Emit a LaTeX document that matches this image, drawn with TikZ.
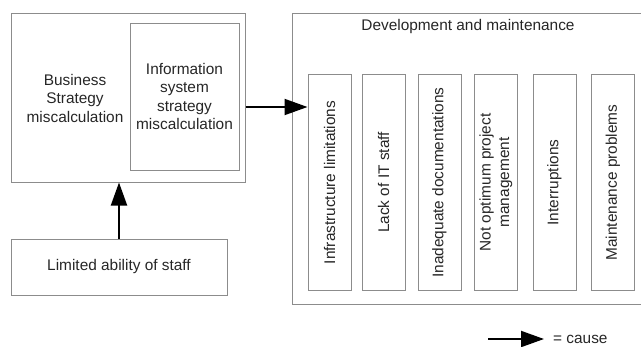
\documentclass[tikz,border=0pt]{standalone}
\usepackage{fontspec}
\setmainfont{Liberation Sans}
\usetikzlibrary{arrows.meta}
\definecolor{boxgray}{HTML}{8C8C8C}
\definecolor{txt}{HTML}{262626}
\tikzset{
  box/.style={draw=boxgray, line width=1pt, rectangle, inner sep=0pt, text=txt, align=center},
  vbox/.style={box, rotate=90, minimum width=216pt, minimum height=43pt},
  lbl/.style={inner sep=0pt, text=txt, align=center},
  cause/.style={line width=2pt, -{Triangle[length=23pt,width=16pt]}},
}
\begin{document}
\begin{tikzpicture}[x=1pt, y=-1pt, font=\fontsize{15.4}{18.5}\selectfont]
\useasboundingbox (0,0) rectangle (641,346);
\clip (0,0) rectangle (641,346);
% left group
\node[box, minimum width=234pt, minimum height=169pt] (biz) at (128,97.5) {};
\node[lbl] (biztext) at (75,98) {Business\\Strategy\\miscalculation};
\node[box, minimum width=109pt, minimum height=147pt] (info) at (184.5,96.5) {Information\\system\\strategy\\miscalculation};
\node[box, minimum width=216pt, minimum height=56pt] (lim) at (119,267) {Limited ability of staff};
% right group
\node[box, minimum width=358pt, minimum height=291pt] (dev) at (471,158.5) {};
\node[lbl] (devtitle) at (468,27) {Development and maintenance};
\node[vbox] (a1) at (329.5,182.5) {Infrastructure limitations};
\node[vbox] (a2) at (383.5,182.5) {Lack of IT staff};
\node[vbox] (a3) at (439.5,182.5) {Inadequate documentations};
\node[vbox] (a4) at (496,182.5) {Not optimum project\\management};
\node[vbox] (a5) at (554.5,182.5) {Interruptions};
\node[vbox] (a6) at (613,182.5) {Maintenance problems};
% connectors
\draw[cause] (biz.east |- 0,107) -- (a1.north |- 0,107);
\draw[cause] (lim.north) -- (lim.north |- biz.south);
% legend
\coordinate (legs) at (488,339);
\node[lbl, anchor=west] (legtext) at (553,339) {= cause};
\draw[cause] (legs) -- (legtext.west -| 544,0);
\end{tikzpicture}
\end{document}
